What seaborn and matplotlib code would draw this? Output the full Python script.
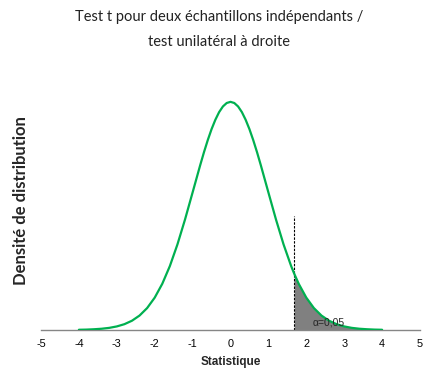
import matplotlib
matplotlib.use("Agg")
import matplotlib.pyplot as plt
import seaborn as sns
import pandas as pd

# t density (x = statistic, y = density)
stat_x = [-4.0, -3.8, -3.6, -3.4, -3.2, -3.0, -2.8, -2.6, -2.4, -2.2, -2.0,
          -1.8, -1.6, -1.4, -1.2, -1.0, -0.8, -0.7, -0.6, -0.5, -0.4, -0.3, -0.2, -0.1, 0.0,
          0.1, 0.2, 0.3, 0.4, 0.5, 0.6, 0.7, 0.8, 1.0, 1.2, 1.4, 1.6, 1.68, 1.8, 2.0,
          2.2, 2.4, 2.6, 2.8, 3.0, 3.2, 3.4, 3.6, 3.8, 4.0]
density = [0.0004, 0.0007, 0.0013, 0.0022, 0.0037, 0.0062, 0.0101, 0.0161, 0.0251, 0.0381, 0.0562,
           0.0803, 0.1111, 0.1487, 0.1920, 0.2390, 0.2863, 0.3089, 0.3299, 0.3489, 0.3652, 0.3786,
           0.3884, 0.3944, 0.3964,
           0.3944, 0.3884, 0.3786, 0.3652, 0.3489, 0.3299, 0.3089, 0.2863, 0.2390, 0.1920, 0.1487,
           0.1111, 0.0980, 0.0803, 0.0562,
           0.0381, 0.0251, 0.0161, 0.0101, 0.0062, 0.0037, 0.0022, 0.0013, 0.0007, 0.0004]
crit_value = 1.68
crit_line_top = 0.198
alpha_label = "α=0,05"
x_ticks = [-5, -4, -3, -2, -1, 0, 1, 2, 3, 4, 5]

df = pd.DataFrame({"x": stat_x, "y": density})
tail = df[df["x"] >= crit_value]

sns.set_style("white")
fig = plt.figure(figsize=(4.39, 3.87), dpi=100)
ax = fig.add_axes([41 / 439, 1 - 330 / 387, 379 / 439, 259 / 387])

ax.fill_between(tail["x"], 0, tail["y"], color="#808080", linewidth=0, zorder=1)
sns.lineplot(data=df, x="x", y="y", color="#00B050", linewidth=1.6, ax=ax, zorder=3)
ax.plot([crit_value, crit_value], [0, crit_line_top], color="black",
        linestyle=(0, (2.2, 1.2)), linewidth=0.8, zorder=2)
ax.text(2.6, 0.013, alpha_label, fontsize=7.5, ha="center", va="center",
        family="Liberation Sans", zorder=4)

ax.set_xlim(-5, 5)
ax.set_ylim(0, 0.45)
ax.set_xticks(x_ticks)
ax.set_xticklabels([str(t) for t in x_ticks], family="Liberation Sans", fontsize=7.8)
ax.set_yticks([])
for s in ["top", "right", "left"]:
    ax.spines[s].set_visible(False)
ax.spines["bottom"].set_color("#868686")
ax.spines["bottom"].set_linewidth(1.0)
ax.tick_params(axis="x", direction="inout", length=6, width=1.0, color="#868686",
               pad=3.5, labelcolor="black")

ax.set_xlabel("Statistique", family="Liberation Sans", fontweight="bold", fontsize=8.5,
              va="center")
ax.set_ylabel("Densité de distribution", family="Lato", fontweight="bold", fontsize=12)
ax.yaxis.set_label_coords(-0.032, 0.5)
ax.xaxis.set_label_coords(0.5, -(362 - 330) / 259)

fig.text(0.5, 1 - 17 / 387, "Test t pour deux échantillons indépendants /",
         ha="center", va="center", family="Lato", fontsize=10.5, color="#222222")
fig.text(0.5, 1 - 42 / 387, "test unilatéral à droite",
         ha="center", va="center", family="Lato", fontsize=10.5, color="#222222")

fig.savefig("out.png", dpi=100)
